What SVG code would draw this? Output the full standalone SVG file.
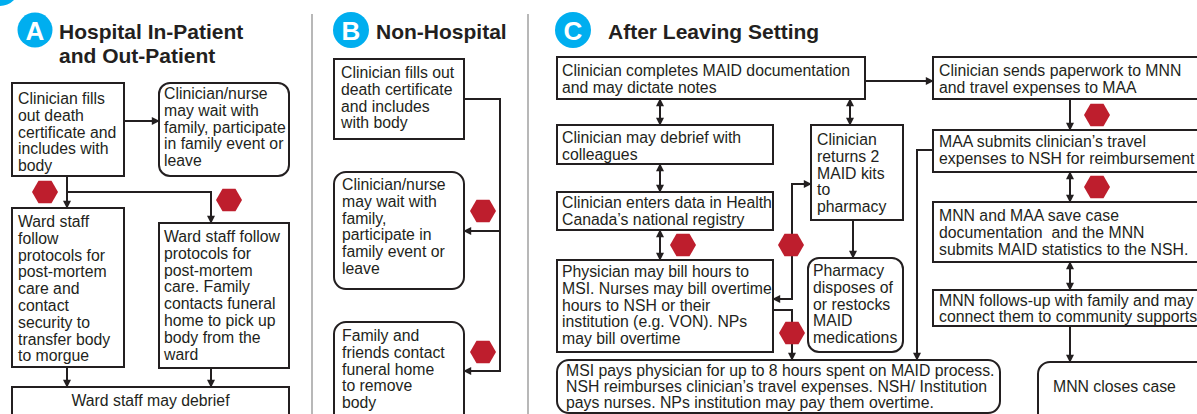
<svg xmlns="http://www.w3.org/2000/svg" width="1197" height="414" viewBox="0 0 1197 414">
<style>
.box{fill:#fff;stroke:#231f20;stroke-width:2}
.t{font-family:"Liberation Sans",Arial,sans-serif;font-size:15.8px;fill:#231f20}
.title{font-family:"Liberation Sans",Arial,sans-serif;font-weight:bold;font-size:21px;fill:#231f20}
.badge{fill:#00aeef}
.bt{font-family:"Liberation Sans",Arial,sans-serif;font-weight:bold;font-size:26px;fill:#fff;text-anchor:middle}
.hex{fill:#be1e2d}
.conn{fill:none;stroke:#231f20;stroke-width:2}
.end{marker-end:url(#ah)}
.both{marker-start:url(#ah);marker-end:url(#ah)}
.div{stroke:#a0a0a0;stroke-width:1.5}
</style>
<defs>
<marker id="ah" viewBox="0 0 10 10" refX="9" refY="5" markerWidth="9" markerHeight="8" markerUnits="userSpaceOnUse" orient="auto-start-reverse"><path d="M0,0 L10,5 L0,10 z" fill="#231f20"/></marker>
<path id="hex" class="hex" d="M-13,0 L-6.5,-11.3 L6.5,-11.3 L13,0 L6.5,11.3 L-6.5,11.3 z"/>
</defs>
<rect width="1197" height="414" fill="#fff"/>
<circle class="badge" cx="0" cy="-13" r="19"/>
<line class="div" x1="312" y1="14" x2="312" y2="414"/>
<line class="div" x1="528" y1="14" x2="528" y2="414"/>

<g id="titleA"><circle class="badge" cx="35" cy="30" r="17.5"/><text class="bt" x="35" y="39.5">A</text>
<text class="title" x="59" y="39">Hospital In-Patient</text><text class="title" x="59" y="63">and Out-Patient</text></g>
<g id="titleB"><circle class="badge" cx="351" cy="30" r="18"/><text class="bt" x="351" y="39.5">B</text>
<text class="title" x="376" y="39">Non-Hospital</text></g>
<g id="titleC"><circle class="badge" cx="573" cy="30" r="18"/><text class="bt" x="573" y="39.5">C</text>
<text class="title" x="608" y="39">After Leaving Setting</text></g>

<g id="connectors">
<path class="conn end" d="M124,121 H159"/>
<path class="conn end" d="M67,176 V208"/>
<path class="conn end" d="M67,192 H211 V223"/>
<path class="conn end" d="M67,367 V387"/>
<path class="conn end" d="M211,368 V387"/>
<path class="conn end" d="M464,99 H500 V371 H464"/>
<path class="conn end" d="M500,231 H464"/>
<path class="conn end" d="M865,81 H933"/>
<path class="conn both" d="M660,99 V125"/>
<path class="conn both" d="M850,99 V125"/>
<path class="conn both" d="M660,164 V192"/>
<path class="conn both" d="M660,230 V260"/>
<path class="conn both" d="M773,299 H792 V184 H811"/>
<path class="conn end" d="M773,310 H792 V360"/>
<path class="conn end" d="M853,220 V258"/>
<path class="conn end" d="M933,150 H917 V360"/>
<path class="conn end" d="M1070,99 V130"/>
<path class="conn both" d="M1070,172 V202"/>
<path class="conn both" d="M1070,262 V290"/>
<path class="conn end" d="M1070,326 V362"/>
<use href="#hex" x="45" y="192"/>
<use href="#hex" x="229" y="200"/>
<use href="#hex" x="483" y="211"/>
<use href="#hex" x="483" y="352"/>
<use href="#hex" x="683" y="245"/>
<use href="#hex" x="791" y="245"/>
<use href="#hex" x="792" y="333"/>
<use href="#hex" x="1097" y="115"/>
<use href="#hex" x="1097" y="187"/>
</g>

<g id="a1"><rect class="box" x="12" y="83" width="112" height="93"/>
<text class="t"><tspan x="18" y="104">Clinician fills</tspan><tspan x="18" dy="16.8">out death</tspan><tspan x="18" dy="16.8">certificate and</tspan><tspan x="18" dy="16.8">includes with</tspan><tspan x="18" dy="16.8">body</tspan></text></g>
<g id="a2"><rect class="box" x="159" y="83" width="130" height="93" rx="11"/>
<text class="t"><tspan x="164" y="99">Clinician/nurse</tspan><tspan x="164" dy="16.8">may wait with</tspan><tspan x="164" dy="16.8">family, participate</tspan><tspan x="164" dy="16.8">in family event or</tspan><tspan x="164" dy="16.8">leave</tspan></text></g>
<g id="a3"><rect class="box" x="12" y="208" width="112" height="159"/>
<text class="t"><tspan x="18" y="227">Ward staff</tspan><tspan x="18" dy="16.8">follow</tspan><tspan x="18" dy="16.8">protocols for</tspan><tspan x="18" dy="16.8">post-mortem</tspan><tspan x="18" dy="16.8">care and</tspan><tspan x="18" dy="16.8">contact</tspan><tspan x="18" dy="16.8">security to</tspan><tspan x="18" dy="16.8">transfer body</tspan><tspan x="18" dy="16.8">to morgue</tspan></text></g>
<g id="a4"><rect class="box" x="159" y="223" width="130" height="145"/>
<text class="t"><tspan x="164" y="242">Ward staff follow</tspan><tspan x="164" dy="16.8">protocols for</tspan><tspan x="164" dy="16.8">post-mortem</tspan><tspan x="164" dy="16.8">care. Family</tspan><tspan x="164" dy="16.8">contacts funeral</tspan><tspan x="164" dy="16.8">home to pick up</tspan><tspan x="164" dy="16.8">body from the</tspan><tspan x="164" dy="16.8">ward</tspan></text></g>
<g id="a5"><rect class="box" x="12" y="387" width="277" height="40"/>
<text class="t" x="150.5" y="406" text-anchor="middle">Ward staff may debrief</text></g>

<g id="b1"><rect class="box" x="334" y="59" width="130" height="80"/>
<text class="t"><tspan x="341" y="78">Clinician fills out</tspan><tspan x="341" dy="16.8">death certificate</tspan><tspan x="341" dy="16.8">and includes</tspan><tspan x="341" dy="16.8">with body</tspan></text></g>
<g id="b2"><rect class="box" x="334" y="172" width="130" height="117" rx="12"/>
<text class="t"><tspan x="342" y="190">Clinician/nurse</tspan><tspan x="342" dy="16.8">may wait with</tspan><tspan x="342" dy="16.8">family,</tspan><tspan x="342" dy="16.8">participate in</tspan><tspan x="342" dy="16.8">family event or</tspan><tspan x="342" dy="16.8">leave</tspan></text></g>
<g id="b3"><rect class="box" x="334" y="322" width="130" height="110" rx="12"/>
<text class="t"><tspan x="342" y="341">Family and</tspan><tspan x="342" dy="16.8">friends contact</tspan><tspan x="342" dy="16.8">funeral home</tspan><tspan x="342" dy="16.8">to remove</tspan><tspan x="342" dy="16.8">body</tspan></text></g>

<g id="c1"><rect class="box" x="557" y="57" width="308" height="42"/>
<text class="t"><tspan x="562" y="76">Clinician completes MAID documentation</tspan><tspan x="562" dy="16.8">and may dictate notes</tspan></text></g>
<g id="c2"><rect class="box" x="557" y="125" width="216" height="39"/>
<text class="t"><tspan x="562" y="143">Clinician may debrief with</tspan><tspan x="562" dy="16.8">colleagues</tspan></text></g>
<g id="c3"><rect class="box" x="557" y="192" width="216" height="38"/>
<text class="t"><tspan x="562" y="208">Clinician enters data in Health</tspan><tspan x="562" dy="16.8">Canada’s national registry</tspan></text></g>
<g id="c4"><rect class="box" x="557" y="260" width="216" height="92"/>
<text class="t"><tspan x="562" y="277">Physician may bill hours to</tspan><tspan x="562" dy="16.8">MSI. Nurses may bill overtime</tspan><tspan x="562" dy="16.8">hours to NSH or their</tspan><tspan x="562" dy="16.8">institution (e.g. VON). NPs</tspan><tspan x="562" dy="16.8">may bill overtime</tspan></text></g>
<g id="kits"><rect class="box" x="811" y="125" width="92" height="95"/>
<text class="t"><tspan x="817" y="145">Clinician</tspan><tspan x="817" dy="16.8">returns 2</tspan><tspan x="817" dy="16.8">MAID kits</tspan><tspan x="817" dy="16.8">to</tspan><tspan x="817" dy="16.8">pharmacy</tspan></text></g>
<g id="pharmacy"><rect class="box" x="808" y="258" width="95" height="94" rx="11"/>
<text class="t"><tspan x="813" y="276">Pharmacy</tspan><tspan x="813" dy="16.8">disposes of</tspan><tspan x="813" dy="16.8">or restocks</tspan><tspan x="813" dy="16.8">MAID</tspan><tspan x="813" dy="16.8">medications</tspan></text></g>
<g id="msi"><rect class="box" x="557" y="360" width="443" height="53" rx="12"/>
<text class="t"><tspan x="566" y="376">MSI pays physician for up to 8 hours spent on MAID process.</tspan><tspan x="566" dy="16">NSH reimburses clinician’s travel expenses. NSH/ Institution</tspan><tspan x="566" dy="16">pays nurses. NPs institution may pay them overtime.</tspan></text></g>

<g id="r1"><rect class="box" x="933" y="57" width="270" height="42"/>
<text class="t"><tspan x="939" y="76">Clinician sends paperwork to MNN</tspan><tspan x="939" dy="16.8">and travel expenses to MAA</tspan></text></g>
<g id="r2"><rect class="box" x="933" y="130" width="270" height="42"/>
<text class="t"><tspan x="939" y="147">MAA submits clinician’s travel</tspan><tspan x="939" dy="16.8">expenses to NSH for reimbursement</tspan></text></g>
<g id="r3"><rect class="box" x="933" y="202" width="270" height="60"/>
<text class="t"><tspan x="939" y="221">MNN and MAA save case</tspan><tspan x="939" dy="16.8">documentation&#160; and the MNN</tspan><tspan x="939" dy="16.8">submits MAID statistics to the NSH.</tspan></text></g>
<g id="r4"><rect class="box" x="933" y="290" width="270" height="36"/>
<text class="t"><tspan x="939" y="306">MNN follows-up with family and may</tspan><tspan x="939" dy="16.2">connect them to community supports</tspan></text></g>
<g id="r5"><rect class="box" x="1038" y="362" width="180" height="70" rx="12"/>
<text class="t" x="1053" y="392">MNN closes case</text></g>
</svg>
